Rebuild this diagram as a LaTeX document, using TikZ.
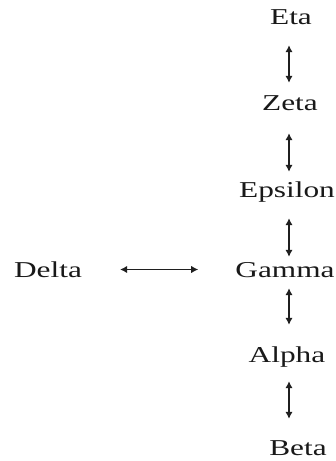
\documentclass[tikz,border=0pt]{standalone}
\usepackage{fontspec}
\setmainfont{Liberation Serif}
\usetikzlibrary{arrows.meta}
\newcommand{\widetext}[1]{\scalebox{1.38}[1]{#1}}
\begin{document}
\begin{tikzpicture}[x=1pt,y=-1pt,
  label/.style={inner sep=0pt, anchor=base, text height=15pt, text depth=0pt,
    font=\fontsize{22.7}{26}\selectfont, text=black!90},
  link/.style={line width=1.7pt, draw=black!88,
    {Latex[length=7pt,width=7.5pt]}-{Latex[length=7pt,width=7.5pt]}}]
\useasboundingbox[fill=white] (0,0) rectangle (336,461);

% labels, placed on their baselines
\node[label] (eta)     at (291,24)  {\widetext{Eta}};
\node[label] (zeta)    at (290,110) {\widetext{Zeta}};
\node[label] (epsilon) at (287,197) {\widetext{Epsilon}};
\node[label] (gamma)   at (285,277) {\widetext{Gamma}};
\node[label] (alpha)   at (287,362) {\widetext{Alpha}};
\node[label] (beta)    at (298,455) {\widetext{Beta}};
\node[label] (delta)   at (48,277)  {\widetext{Delta}};

% vertical axis that the column of arrows follows
\coordinate (spine) at (289,0);

\draw[link, shorten <=21pt, shorten >=12pt] (spine |- eta.south)     -- (spine |- zeta.north);
\draw[link, shorten <=23pt, shorten >=10pt] (spine |- zeta.south)    -- (spine |- epsilon.north);
\draw[link, shorten <=21pt, shorten >=5pt]  (spine |- epsilon.south) -- (spine |- gamma.north);
\draw[link, shorten <=11pt, shorten >=22pt] (spine |- gamma.south)   -- (spine |- alpha.north);
\draw[link, shorten <=19pt, shorten >=21pt] (spine |- alpha.south)   -- (spine |- beta.north);

\draw[link, shorten <=38pt, shorten >=37pt] (delta.east) -- (delta.east -| gamma.west);
\end{tikzpicture}
\end{document}
